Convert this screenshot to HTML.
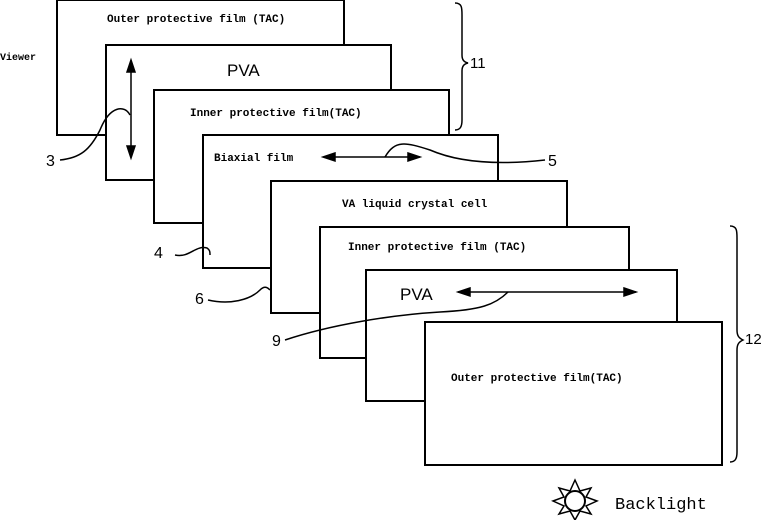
<!DOCTYPE html>
<html><head><style>
body{margin:0;background:#fff}
svg text{font-family:"Liberation Mono",monospace;font-weight:bold;font-size:11px;fill:#000}
svg text.n{font-family:"Liberation Sans",sans-serif;font-weight:normal;font-size:16px}
</style></head><body>
<svg width="763" height="520" viewBox="0 0 763 520" xmlns="http://www.w3.org/2000/svg">
<g fill="#fff" stroke="#000" stroke-width="2">
<rect x="57" y="0" width="287" height="135"/>
<rect x="106" y="45" width="285" height="135"/>
<rect x="154" y="90" width="295" height="133"/>
<rect x="203" y="135" width="295" height="133"/>
<rect x="271" y="181" width="296" height="132"/>
<rect x="320" y="227" width="309" height="131"/>
<rect x="366" y="270" width="311" height="131"/>
<rect x="425" y="322" width="297" height="143"/>
</g>
<text x="107" y="22">Outer protective film (TAC)</text>
<text x="0" y="60" style="font-size:10px">Viewer</text>
<text x="227" y="76" style="font-family:'Liberation Sans',sans-serif;font-weight:normal;font-size:17px">PVA</text>
<text x="190" y="116">Inner protective film(TAC)</text>
<text x="214" y="161">Biaxial film</text>
<text x="342" y="207">VA liquid crystal cell</text>
<text x="348" y="250">Inner protective film (TAC)</text>
<text x="400" y="300" style="font-family:'Liberation Sans',sans-serif;font-weight:normal;font-size:17px">PVA</text>
<text x="451" y="381">Outer protective film(TAC)</text>
<g stroke="#000" stroke-width="1.5" fill="none">
<line x1="131" y1="62" x2="131" y2="155"/>
<path d="M127 72 L131 60 L135 72Z M127 146 L131 158 L135 146Z" fill="#000"/>
<path d="M60 160 C80 158 90 150 100 130 C110 105 125 105 130 115"/>
<line x1="325" y1="157" x2="420" y2="157"/>
<path d="M335 153 L323 157 L335 161Z M408 153 L420 157 L408 161Z" fill="#000"/>
<path d="M385 157 C395 140 405 142 430 150 C460 163 500 165 545 160"/>
<path d="M175 255 C190 258 195 245 207 248 C210 250 210 252 210 255"/>
<path d="M208 300 C230 305 250 300 260 290 C265 285 268 288 270 290"/>
<line x1="458" y1="292" x2="636" y2="292"/>
<path d="M470 288 L458 292 L470 296Z M624 288 L636 292 L624 296Z" fill="#000"/>
<path d="M285 340 C330 325 390 315 440 312 C480 310 495 305 508 292"/>
<path d="M455 3 C462 3 462 8 462 15 L462 55 C462 60 464 62 468 63 C464 64 462 66 462 71 L462 120 C462 127 460 130 455 130"/>
<path d="M730 226 C737 226 737 231 737 238 L737 330 C737 336 739 338 743 340 C739 342 737 344 737 350 L737 452 C737 459 735 462 730 462"/>
</g>
<text class="n" x="470" y="68" style="font-size:15px">11</text>
<text class="n" x="745" y="344" style="font-size:15px">12</text>
<text class="n" x="46" y="166">3</text>
<text class="n" x="548" y="166">5</text>
<text class="n" x="154" y="258">4</text>
<text class="n" x="195" y="304">6</text>
<text class="n" x="272" y="346">9</text>
<g stroke="#000" stroke-width="2" fill="none">
<circle cx="575" cy="501" r="10"/>
<path d="M575 480 L580 491 L591 488 L586 497 L597 501 L586 506 L591 514 L580 511 L575 520 L570 511 L559 514 L564 506 L553 501 L564 497 L559 488 L570 491Z" stroke-width="1.5"/>
</g>
<text x="615" y="509" style="font-size:17px;font-weight:normal">Backlight</text>
</svg>
</body></html>
